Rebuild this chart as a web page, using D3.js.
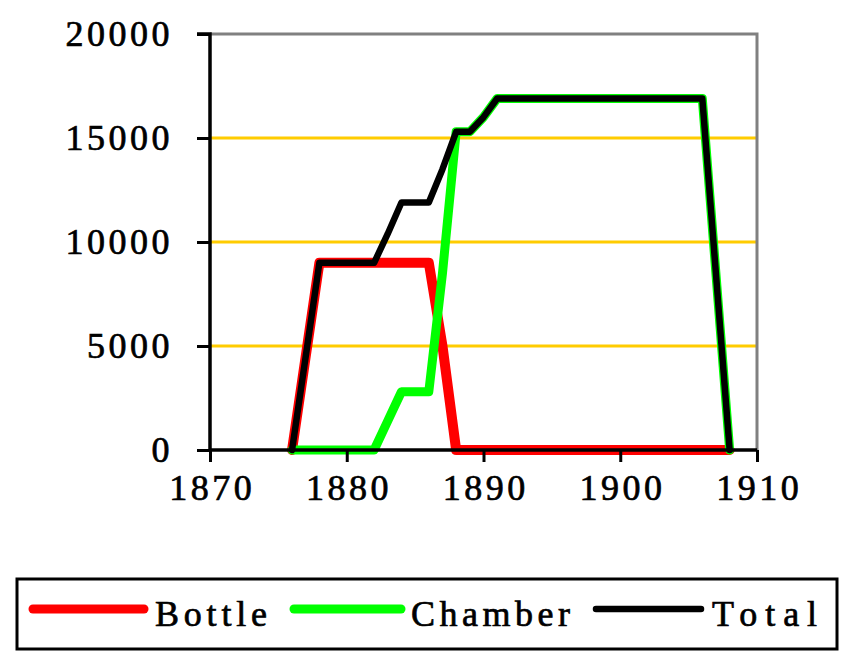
<!DOCTYPE html>
<html>
<head>
<meta charset="utf-8">
<script src="https://cdn.jsdelivr.net/npm/d3@7"></script>
<style>
  html, body { margin: 0; padding: 0; background: #fff; }
  svg { display: block; }
  text { font-family: "Liberation Serif", "Times New Roman", serif; fill: #000; }
</style>
</head>
<body>
<div id="chart"></div>
<script>
// ---- data ----
const years   = [1876, 1878, 1879, 1880, 1881, 1882, 1883, 1884, 1885, 1886, 1887, 1888, 1889, 1890, 1891, 1895, 1900, 1905, 1906, 1908];
const bottle  = [0, 9000, 9000, 9000, 9000, 9000, 9000, 9000, 9000, 9000, 5000, 0, 0, 0, 0, 0, 0, 0, 0, 0];
const chamber = [0, 0, 0, 0, 0, 0, 1400, 2800, 2800, 2800, 8500, 15300, 15300, 16000, 16900, 16900, 16900, 16900, 16900, 0];
const total   = [0, 9000, 9000, 9000, 9000, 9000, 10400, 11900, 11900, 11900, 13500, 15300, 15300, 16000, 16900, 16900, 16900, 16900, 16900, 0];
const seriesNames = ["Bottle", "Chamber", "Total"];
const seriesColors = ["#ff0000", "#00ff00", "#000000"];
const xTicks = [1870, 1880, 1890, 1900, 1910];
const yTicks = [0, 5000, 10000, 15000, 20000];

const W = 857, H = 669;
const pLeft = 210, pRight = 757, pTop = 34, pBottom = 450;

const svg = d3.select("#chart").append("svg").attr("width", W).attr("height", H);

const x = d3.scaleLinear().domain([1870, 1910]).range([pLeft, pRight]);
const y = d3.scaleLinear().domain([0, 20000]).range([pBottom, pTop]);

// gridlines
svg.append("g").selectAll("line").data(yTicks.filter(v => v > 0 && v < 20000)).join("line")
  .attr("x1", pLeft).attr("x2", pRight).attr("y1", d => y(d)).attr("y2", d => y(d))
  .attr("stroke", "#ffcc00").attr("stroke-width", 3);

// plot border top & right (gray)
svg.append("path")
  .attr("d", `M${pLeft},${y(20000)}H${pRight}V${pBottom}`)
  .attr("fill", "none").attr("stroke", "#808080").attr("stroke-width", 3);

// series
const seriesData = [bottle, chamber, total];
const widths = [10, 9, 6.5];
const line = d3.line().x((d, i) => x(years[i])).y(d => y(d));
seriesData.forEach((vals, k) => {
  svg.append("path").datum(vals).attr("d", line)
    .attr("fill", "none").attr("stroke", seriesColors[k]).attr("stroke-width", widths[k])
    .attr("stroke-linejoin", "round").attr("stroke-linecap", "round");
});

const thicken = sel => sel.attr("stroke", "#000").attr("stroke-width", 0.7).attr("paint-order", "stroke");

// y axis
const yAxis = d3.axisLeft(y).tickValues(yTicks).tickSize(13).tickPadding(24).tickFormat(d3.format("d"));
const gy = svg.append("g").attr("transform", `translate(${pLeft},0)`).call(yAxis);
gy.select(".domain").attr("stroke", "#000").attr("stroke-width", 3.5).attr("d", `M-13,${pTop}H0V${pBottom}`);
gy.selectAll(".tick line").attr("stroke", "#000").attr("stroke-width", 3);
gy.selectAll(".tick text").attr("font-size", 36).attr("letter-spacing", 3.5)
  .attr("font-family", "Liberation Serif").attr("dy", "0.32em").attr("fill", "#000").call(thicken);

// x axis
const xAxis = d3.axisBottom(x).tickValues(xTicks).tickSize(12).tickPadding(12).tickFormat(d3.format("d"));
const gx = svg.append("g").attr("transform", `translate(0,${pBottom})`).call(xAxis);
gx.select(".domain").attr("stroke", "#000").attr("stroke-width", 3.5).attr("d", `M${pLeft},0H${pRight}`);
gx.selectAll(".tick line").attr("stroke", "#000").attr("stroke-width", 3);
gx.selectAll(".tick text").attr("font-size", 36).attr("letter-spacing", 3.5)
  .attr("font-family", "Liberation Serif").attr("dy", "0.71em").attr("fill", "#000")
  .attr("dx", 1.75).call(thicken);

// legend
const lg = svg.append("g");
lg.append("rect").attr("x", 17).attr("y", 579).attr("width", 820).attr("height", 70)
  .attr("fill", "#fff").attr("stroke", "#000").attr("stroke-width", 3);
const legendX = [29, 290, 592];
const legendLen = [119, 115, 113];
const legendTextX = [155, 411, 712];
const legendTextW = [112, 159, 105];
seriesNames.forEach((name, k) => {
  lg.append("line").attr("x1", legendX[k] + 4).attr("x2", legendX[k] + legendLen[k] - 4)
    .attr("y1", 609).attr("y2", 609)
    .attr("stroke", seriesColors[k]).attr("stroke-width", k === 2 ? 6.5 : 9)
    .attr("stroke-linecap", "round");
  lg.append("text").attr("x", legendTextX[k]).attr("y", 626)
    .attr("font-size", 36).attr("textLength", legendTextW[k]).attr("lengthAdjust", "spacing")
    .text(name).call(thicken);
});
</script>
</body>
</html>
